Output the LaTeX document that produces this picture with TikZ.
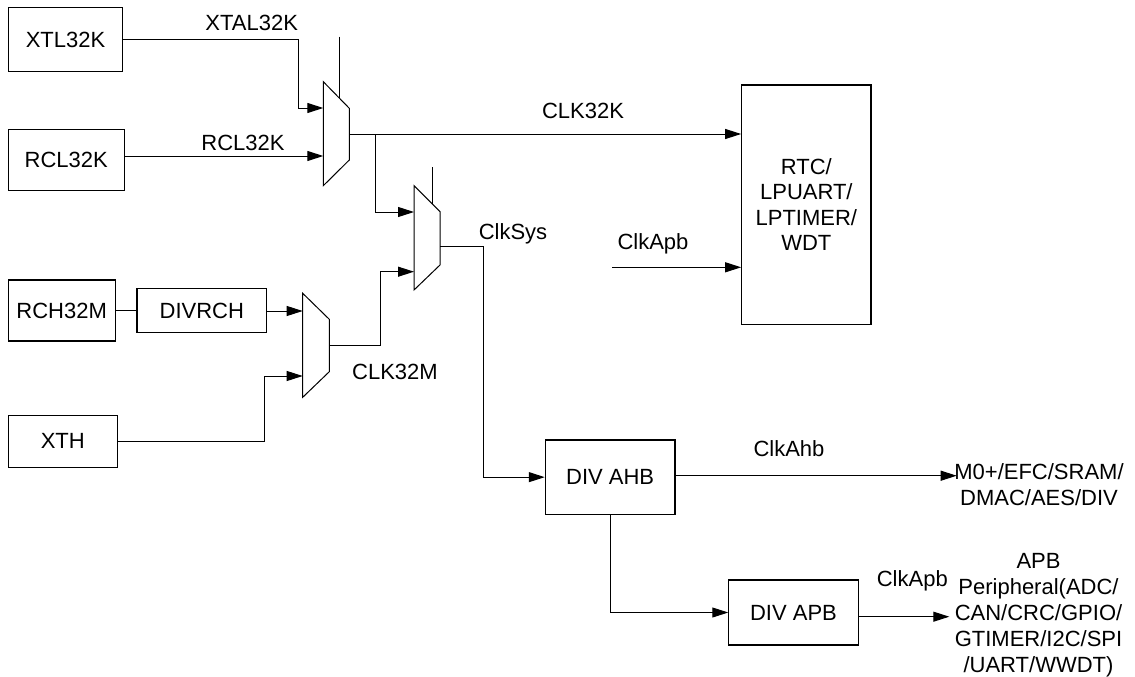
\documentclass[tikz,border=0pt]{standalone}
\usepackage{fontspec}
\setmainfont{Liberation Sans}
\usetikzlibrary{arrows.meta}
\begin{document}
\begin{tikzpicture}[x=1pt,y=-1pt,line width=1pt,
  blk/.style={draw,line width=1.1pt,inner sep=0pt,align=center,font=\fontsize{22}{26}\selectfont},
  lbl/.style={inner sep=0pt,anchor=base,font=\fontsize{22}{26}\selectfont},
  txt/.style={inner sep=0pt,align=center,font=\fontsize{22}{26}\selectfont},
  arr/.style={-{Triangle[length=16pt,width=10pt]}},
  muxs/.style={draw,line width=1pt}]
\useasboundingbox (0,0) rectangle (1135,677);
% blocks
\node[blk,minimum width=114.4pt,minimum height=64.4pt] (xtl) at (65.5,39.5) {XTL32K};
\node[blk,minimum width=116pt,minimum height=60.7pt] (rcl) at (66.3,159.7) {RCL32K};
\node[blk,minimum width=106.7pt,minimum height=61pt] (rch) at (61.7,310.5) {RCH32M};
\node[blk,minimum width=129.7pt,minimum height=44.4pt] (divrch) at (201.8,310.5) {DIVRCH};
\node[blk,minimum width=109pt,minimum height=52.3pt] (xth) at (62.8,441.2) {XTH};
\node[blk,minimum width=129.3pt,minimum height=239.3pt,font=\fontsize{22}{25.5}\selectfont] (rtc) at (806.35,204.65) {RTC/\\LPUART/\\LPTIMER/\\WDT};
\node[blk,minimum width=129.7pt,minimum height=74.3pt] (ahb) at (610.15,477.15) {DIV AHB};
\node[blk,minimum width=129.4pt,minimum height=65pt] (apbdiv) at (793.5,612.5) {DIV APB};
% muxes
\coordinate (m1a) at (323.3,81.7); \coordinate (m1b) at (349.3,108.3);
\coordinate (m1c) at (349.3,160); \coordinate (m1d) at (323.3,185.7);
\draw[muxs] (m1a) -- (m1b) -- (m1c) -- (m1d) -- cycle;
\coordinate (m1in1) at (323.3,108); \coordinate (m1in2) at (323.3,156);
\coordinate (m1out) at (349.3,134);
\coordinate (m1sel) at (339.3,36.7); \coordinate (m1selb) at (339.3,98.1);
\draw (m1sel) -- (m1selb);
\coordinate (m2a) at (414,185.7); \coordinate (m2b) at (440,211.7);
\coordinate (m2c) at (440,265); \coordinate (m2d) at (414,290);
\draw[muxs] (m2a) -- (m2b) -- (m2c) -- (m2d) -- cycle;
\coordinate (m2in1) at (414,212); \coordinate (m2in2) at (414,271.7);
\coordinate (m2out) at (440,246);
\coordinate (m2sel) at (432.7,167.3); \coordinate (m2selb) at (432.7,204.4);
\draw (m2sel) -- (m2selb);
\coordinate (m3a) at (302.7,293.3); \coordinate (m3b) at (329.3,319.3);
\coordinate (m3c) at (329.3,371.7); \coordinate (m3d) at (302.7,397.3);
\draw[muxs] (m3a) -- (m3b) -- (m3c) -- (m3d) -- cycle;
\coordinate (m3in1) at (302.7,311); \coordinate (m3in2) at (302.7,376);
\coordinate (m3out) at (329.3,345.3);
% free ends
\coordinate (br) at (375.7,134);
\coordinate (apbsrc) at (612.3,267.3);
\coordinate (m0tip) at (956.7,475.7);
\coordinate (apbtip) at (949.3,616.7);
% connectors
\draw[arr] (xtl.east) -- ++(175.3,0) |- (m1in1);
\draw[arr] (rcl.east |- m1in2) -- (m1in2);
\draw[arr] (m1out) -- (rtc.west |- m1out);
\draw[arr] (br) |- (m2in1);
\draw[arr] (m2out) -- (483.3,246) |- (ahb.west);
\draw[arr] (m3out) -- (380.7,345.3) |- (m2in2);
\draw (rch) -- (divrch);
\draw[arr] (divrch.east |- m3in1) -- (m3in1);
\draw[arr] (xth.east) -| (264.3,376) -- (m3in2);
\draw[arr] (apbsrc) -- (rtc.west |- apbsrc);
\draw[arr] (ahb.east |- m0tip) -- (m0tip);
\draw[arr] (ahb.south) |- (apbdiv.west);
\draw[arr] (apbdiv.east |- apbtip) -- (apbtip);
% labels
\node[lbl] (lxtal) at (251.7,30.9) {XTAL32K};
\node[lbl] (lrcl) at (243,150.6) {RCL32K};
\node[lbl] (lclk32k) at (583,118.6) {CLK32K};
\node[lbl] (lclksys) at (513,239.6) {ClkSys};
\node[lbl] (lclkapb) at (653,249.6) {ClkApb};
\node[lbl] (lclk32m) at (395,379.6) {CLK32M};
\node[lbl] (lclkahb) at (789,456.9) {ClkAhb};
\node[lbl] (lclkapb2) at (912.3,586.9) {ClkApb};
\node[txt] (m0) at (1039,485) {M0+/EFC/SRAM/\\DMAC/AES/DIV};
\node[txt] (apbper) at (1038.5,615.6) {APB\\Peripheral(ADC/\\CAN/CRC/GPIO/\\GTIMER/I2C/SPI\\/UART/WWDT)};
\end{tikzpicture}
\end{document}
